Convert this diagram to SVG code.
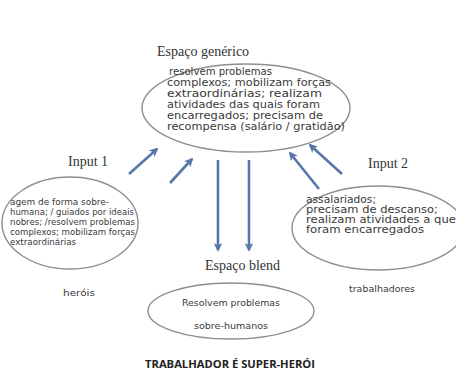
<svg xmlns="http://www.w3.org/2000/svg" width="456" height="380" viewBox="0 0 456 380">
<defs>
<marker id="ah" viewBox="0 0 10 10" refX="8" refY="5" markerWidth="3.4" markerHeight="3.4" orient="auto" markerUnits="strokeWidth">
<path d="M0,0 L10,5 L0,10 L2.5,5 Z" fill="#5677a8"/>
</marker>
<style>
.ell{fill:none;stroke:#8e8e8e;stroke-width:1.4}
.lbl{font-family:"Liberation Serif","Times New Roman",serif;font-size:14px;fill:#333}
.t{font-family:"DejaVu Sans",Verdana,sans-serif;fill:#3a3a3a}
.tt{font-size:10px}
.tl{font-size:8.8px}
.tr{font-size:10px}
.arr{stroke:#5677a8;stroke-width:2.6;fill:none;marker-end:url(#ah)}
.title{font-family:"Open Sans","Liberation Sans",sans-serif;font-weight:bold;font-size:10.5px;fill:#222}
</style>
</defs>
<rect width="456" height="380" fill="#fff"/>
<g id="generico">
<text class="lbl" x="157" y="56">Espaço genérico</text>
<ellipse class="ell" cx="246" cy="108" rx="104" ry="44"/>
<text class="t tt" x="169" y="75" textLength="103" lengthAdjust="spacingAndGlyphs">resolvem problemas</text>
<text class="t tt" x="167" y="86" textLength="164" lengthAdjust="spacingAndGlyphs">complexos; mobilizam forças</text>
<text class="t tt" x="167" y="97" textLength="155" lengthAdjust="spacingAndGlyphs">extraordinárias; realizam</text>
<text class="t tt" x="167" y="108" textLength="153" lengthAdjust="spacingAndGlyphs">atividades das quais foram</text>
<text class="t tt" x="167" y="119" textLength="156" lengthAdjust="spacingAndGlyphs">encarregados; precisam de</text>
<text class="t tt" x="167" y="130" textLength="178" lengthAdjust="spacingAndGlyphs">recompensa (salário / gratidão)</text>
</g>
<g id="input1">
<text class="lbl" x="68" y="166">Input 1</text>
<ellipse class="ell" cx="70" cy="223" rx="68" ry="46"/>
<text class="t tl" x="10" y="205" textLength="99" lengthAdjust="spacingAndGlyphs">agem de forma sobre-</text>
<text class="t tl" x="10" y="215" textLength="124" lengthAdjust="spacingAndGlyphs">humana; / guiados por ideais</text>
<text class="t tl" x="10" y="225" textLength="125" lengthAdjust="spacingAndGlyphs">nobres; /resolvem problemas</text>
<text class="t tl" x="10" y="235" textLength="125" lengthAdjust="spacingAndGlyphs">complexos; mobilizam forças</text>
<text class="t tl" x="10" y="245" textLength="66" lengthAdjust="spacingAndGlyphs">extraordinárias</text>
<text class="t" x="63" y="296" font-size="9" textLength="32" lengthAdjust="spacingAndGlyphs">heróis</text>
</g>
<g id="input2">
<text class="lbl" x="368" y="168">Input 2</text>
<ellipse class="ell" cx="378" cy="228" rx="86" ry="42"/>
<text class="t tr" x="306" y="203" textLength="70" lengthAdjust="spacingAndGlyphs">assalariados;</text>
<text class="t tr" x="306" y="213" textLength="132" lengthAdjust="spacingAndGlyphs">precisam de descanso;</text>
<text class="t tr" x="306" y="223" textLength="150" lengthAdjust="spacingAndGlyphs">realizam atividades a que</text>
<text class="t tr" x="306" y="233" textLength="118" lengthAdjust="spacingAndGlyphs">foram encarregados</text>
<text class="t" x="349" y="292" font-size="9" textLength="66" lengthAdjust="spacingAndGlyphs">trabalhadores</text>
</g>
<g id="blend">
<text class="lbl" x="205" y="270">Espaço blend</text>
<ellipse class="ell" cx="231" cy="311" rx="83" ry="28"/>
<text class="t" x="182" y="306" font-size="9.5" textLength="98" lengthAdjust="spacingAndGlyphs">Resolvem problemas</text>
<text class="t" x="194" y="329" font-size="9.5" textLength="74" lengthAdjust="spacingAndGlyphs">sobre-humanos</text>
</g>
<g id="connectors">
<line class="arr" x1="129" y1="174" x2="157" y2="149"/>
<line class="arr" x1="170" y1="183" x2="192" y2="159"/>
<line class="arr" x1="319" y1="189" x2="290" y2="153"/>
<line class="arr" x1="342" y1="174" x2="310" y2="145"/>
<line class="arr" x1="218" y1="160" x2="218" y2="250"/>
<line class="arr" x1="249" y1="160" x2="249" y2="250"/>
</g>
<text class="title" x="145" y="368" textLength="170" lengthAdjust="spacingAndGlyphs">TRABALHADOR É SUPER-HERÓI</text>
</svg>
